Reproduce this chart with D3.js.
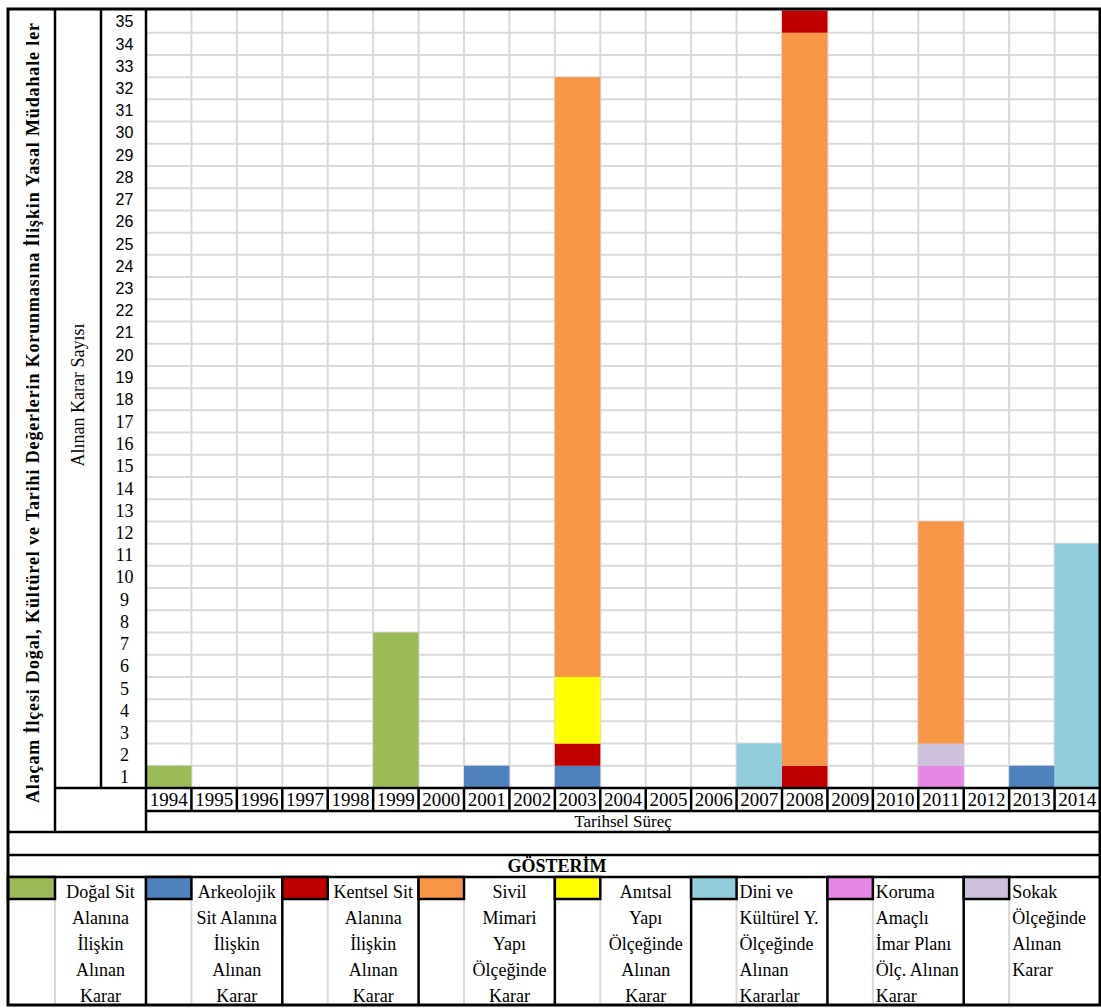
<!DOCTYPE html>
<html>
<head>
<meta charset="utf-8">
<script src="https://cdn.jsdelivr.net/npm/d3@7"></script>
<style>
    body { margin: 0; background: #fff; }
    svg { display: block; }
</style>
</head>
<body>
<script>
(function() {

    // Chart data
    var years = ['1994', '1995', '1996', '1997', '1998', '1999', '2000', '2001', '2002', '2003', '2004',
                 '2005', '2006', '2007', '2008', '2009', '2010', '2011', '2012', '2013', '2014'];

    //           94 95 96 97 98 99 00 01 02 03 04 05 06 07 08 09 10 11 12 13 14
    var dogal =      [1, 0, 0, 0, 0, 7, 0, 0, 0, 0, 0, 0, 0, 0, 0, 0, 0, 0, 0, 0, 0];
    var arkeolojik = [0, 0, 0, 0, 0, 0, 0, 1, 0, 1, 0, 0, 0, 0, 0, 0, 0, 0, 0, 1, 0];
    var kentsel =    [0, 0, 0, 0, 0, 0, 0, 0, 0, 1, 0, 0, 0, 0, 1, 0, 0, 0, 0, 0, 0];
    var anitsal =    [0, 0, 0, 0, 0, 0, 0, 0, 0, 3, 0, 0, 0, 0, 0, 0, 0, 0, 0, 0, 0];
    var koruma =     [0, 0, 0, 0, 0, 0, 0, 0, 0, 0, 0, 0, 0, 0, 0, 0, 0, 1, 0, 0, 0];
    var sokak =      [0, 0, 0, 0, 0, 0, 0, 0, 0, 0, 0, 0, 0, 0, 0, 0, 0, 1, 0, 0, 0];
    var sivil =      [0, 0, 0, 0, 0, 0, 0, 0, 0, 27, 0, 0, 0, 0, 33, 0, 0, 10, 0, 0, 0];
    var dini =       [0, 0, 0, 0, 0, 0, 0, 0, 0, 0, 0, 0, 0, 2, 0, 0, 0, 0, 0, 0, 11];
    var kentselUst = [0, 0, 0, 0, 0, 0, 0, 0, 0, 0, 0, 0, 0, 0, 1, 0, 0, 0, 0, 0, 0];

    var yTicks = d3.range(1, 36);

    var title = 'Alaçam İlçesi Doğal, Kültürel ve Tarihi Değerlerin Korunmasına İlişkin Yasal Müdahale ler';
    var yTitle = 'Alınan Karar Sayısı';
    var xTitle = 'Tarihsel Süreç';
    var legendTitle = 'GÖSTERİM';

    var legendLabels = [
        ['Doğal Sit', 'Alanına', 'İlişkin', 'Alınan', 'Karar'],
        ['Arkeolojik', 'Sit Alanına', 'İlişkin', 'Alınan', 'Karar'],
        ['Kentsel Sit', 'Alanına', 'İlişkin', 'Alınan', 'Karar'],
        ['Sivil', 'Mimari', 'Yapı', 'Ölçeğinde', 'Karar'],
        ['Anıtsal', 'Yapı', 'Ölçeğinde', 'Alınan', 'Karar'],
        ['Dini ve', 'Kültürel Y.', 'Ölçeğinde', 'Alınan', 'Kararlar'],
        ['Koruma', 'Amaçlı', 'İmar Planı', 'Ölç. Alınan', 'Karar'],
        ['Sokak', 'Ölçeğinde', 'Alınan', 'Karar']
    ];

    // Series in stacking order (bottom to top)
    var series = [
        {key: 'dogal', values: dogal, color: '#9bbb59'},
        {key: 'arkeolojik', values: arkeolojik, color: '#4f81bd'},
        {key: 'kentsel', values: kentsel, color: '#c00000'},
        {key: 'anitsal', values: anitsal, color: '#ffff00'},
        {key: 'koruma', values: koruma, color: '#e687e6'},
        {key: 'sokak', values: sokak, color: '#ccc0da'},
        {key: 'sivil', values: sivil, color: '#f79646'},
        {key: 'dini', values: dini, color: '#92cddc'},
        {key: 'kentselUst', values: kentselUst, color: '#c00000'}
    ];
    var legendColors = ['#9bbb59', '#4f81bd', '#c00000', '#f79646', '#ffff00', '#92cddc', '#e687e6', '#ccc0da'];
    var legendAlign = ['middle', 'middle', 'middle', 'middle', 'middle', 'start', 'start', 'start'];

    var SERIF = '"Liberation Serif", "DejaVu Serif", serif';
    var SANS = '"Liberation Sans", "DejaVu Sans", sans-serif';

    // Page layout
    var W = 1101, H = 1008;
    var left = 8, right = 1100, top = 9, bottom = 1005;
    var col1 = 55, col2 = 101, plotLeft = 146;
    var axisY = 788, yearRowB = 811, xTitleRowB = 832, blankRowB = 855, legTitleB = 877, swatchB = 899;

    var svg = d3.select('body').append('svg')
        .attr('width', W)
        .attr('height', H);

    // Scales
    var x = d3.scaleBand().domain(years).range([plotLeft, right]).padding(0);
    var y = d3.scaleLinear().domain([0, 35]).range([axisY, top + 1.5]);
    var bw = x.bandwidth();

    // Gridlines
    var grid = svg.append('g').attr('stroke', '#d9d9d9').attr('stroke-width', 2);
    grid.selectAll('.hg').data(d3.range(1, 35)).enter().append('line')
        .attr('x1', plotLeft).attr('x2', right)
        .attr('y1', function(d) { return y(d); })
        .attr('y2', function(d) { return y(d); });
    grid.selectAll('.vg').data(years.slice(1)).enter().append('line')
        .attr('x1', function(d) { return x(d); })
        .attr('x2', function(d) { return x(d); })
        .attr('y1', top).attr('y2', axisY);

    // Stacked bars
    var table = years.map(function(yr, i) {
        var row = {year: yr};
        series.forEach(function(s) { row[s.key] = s.values[i]; });
        return row;
    });
    var stack = d3.stack().keys(series.map(function(s) { return s.key; }));
    var layers = stack(table);

    svg.append('g').selectAll('g')
        .data(layers)
        .enter().append('g')
        .attr('fill', function(d, i) { return series[i].color; })
        .selectAll('rect')
        .data(function(d) { return d.filter(function(p) { return p[1] > p[0]; }); })
        .enter().append('rect')
        .attr('x', function(d) { return x(d.data.year); })
        .attr('width', bw)
        .attr('y', function(d) { return y(d[1]); })
        .attr('height', function(d) { return y(d[0]) - y(d[1]); });

    // Y tick labels (1-17 in serif, 18-35 in sans as in the source sheet)
    svg.append('g').selectAll('text')
        .data(yTicks)
        .enter().append('text')
        .attr('x', (col2 + plotLeft) / 2 + 1)
        .attr('y', function(d) { return y(d - 0.5); })
        .attr('dy', '0.36em')
        .attr('text-anchor', 'middle')
        .style('font-family', function(d) { return d <= 17 ? SERIF : SANS; })
        .style('font-size', function(d) { return d <= 17 ? '18px' : '16px'; })
        .text(function(d) { return d; });

    // Year labels
    svg.append('g').selectAll('text')
        .data(years)
        .enter().append('text')
        .attr('x', function(d) { return x(d) + bw / 2; })
        .attr('y', (axisY + yearRowB) / 2)
        .attr('dy', '0.35em')
        .attr('text-anchor', 'middle')
        .style('font-family', SERIF)
        .style('font-size', '19px')
        .text(function(d) { return d; });

    // Axis titles
    svg.append('text')
        .attr('x', (plotLeft + right) / 2)
        .attr('y', (yearRowB + xTitleRowB) / 2)
        .attr('dy', '0.35em')
        .attr('text-anchor', 'middle')
        .style('font-family', SERIF)
        .style('font-size', '17px')
        .text(xTitle);

    svg.append('text')
        .attr('transform', 'translate(' + ((col1 + col2) / 2) + ',395) rotate(-90)')
        .attr('dy', '0.35em')
        .attr('text-anchor', 'middle')
        .style('font-family', SERIF)
        .style('font-size', '18px')
        .text(yTitle);

    svg.append('text')
        .attr('transform', 'translate(' + ((left + col1) / 2 + 1) + ',413) rotate(-90)')
        .attr('dy', '0.35em')
        .attr('text-anchor', 'middle')
        .attr('textLength', 780)
        .attr('lengthAdjust', 'spacing')
        .style('font-family', SERIF)
        .style('font-size', '18px')
        .style('font-weight', 'bold')
        .text(title);

    // Table lines
    var lines = svg.append('g').attr('stroke', '#000').attr('stroke-width', 2.5).attr('fill', 'none');
    function hline(y0, x0, x1) { lines.append('line').attr('x1', x0).attr('x2', x1).attr('y1', y0).attr('y2', y0); }
    function vline(x0, y0, y1) { lines.append('line').attr('x1', x0).attr('x2', x0).attr('y1', y0).attr('y2', y1); }

    vline(col1, top, xTitleRowB);
    vline(col2, top, axisY);
    vline(plotLeft, top, xTitleRowB);
    hline(axisY, col1, right);
    hline(yearRowB, plotLeft, right);
    years.slice(1).forEach(function(d) { vline(x(d), axisY, yearRowB); });
    hline(xTitleRowB, left, right);
    hline(blankRowB, left, right);
    hline(legTitleB, left, right);

    // Legend
    svg.append('text')
        .attr('x', (left + right) / 2 + 3)
        .attr('y', (blankRowB + legTitleB) / 2)
        .attr('dy', '0.35em')
        .attr('text-anchor', 'middle')
        .style('font-family', SERIF)
        .style('font-size', '18px')
        .style('font-weight', 'bold')
        .text(legendTitle);

    var items = legendLabels.map(function(lbl, i) {
        var sx = i === 0 ? left : x(years[3 * i - 3]);
        var sw = i === 0 ? col1 - left : bw;
        return {labels: lbl, color: legendColors[i], align: legendAlign[i],
                sx: sx, sw: sw, tx: sx + sw, tw: i === 0 ? plotLeft - col1 : 2 * bw};
    });

    var leg = svg.append('g').selectAll('g')
        .data(items)
        .enter().append('g');

    // light separator under each swatch column
    leg.append('line')
        .attr('x1', function(d) { return d.tx; })
        .attr('x2', function(d) { return d.tx; })
        .attr('y1', swatchB).attr('y2', bottom)
        .attr('stroke', '#d9d9d9').attr('stroke-width', 2);

    leg.append('rect')
        .attr('x', function(d) { return d.sx; })
        .attr('y', legTitleB)
        .attr('width', function(d) { return d.sw; })
        .attr('height', swatchB - legTitleB)
        .attr('fill', function(d) { return d.color; })
        .attr('stroke', '#000')
        .attr('stroke-width', 2.5);

    leg.filter(function(d, i) { return i < items.length - 1; })
        .append('line')
        .attr('x1', function(d) { return d.tx + d.tw; })
        .attr('x2', function(d) { return d.tx + d.tw; })
        .attr('y1', legTitleB).attr('y2', bottom)
        .attr('stroke', '#000').attr('stroke-width', 2.5);

    leg.each(function(d) {
        var tx = d.align === 'middle' ? d.tx + d.tw / 2 : d.tx + 3;
        d3.select(this).selectAll('text')
            .data(d.labels)
            .enter().append('text')
            .attr('x', tx)
            .attr('y', function(t, j) { return 892 + j * 25.8; })
            .attr('dy', '0.35em')
            .attr('text-anchor', d.align)
            .style('font-family', SERIF)
            .style('font-size', '18px')
            .text(function(t) { return t; });
    });

    // Outer border
    svg.append('rect')
        .attr('x', left).attr('y', top)
        .attr('width', right - left).attr('height', bottom - top)
        .attr('fill', 'none')
        .attr('stroke', '#000')
        .attr('stroke-width', 3);

})();
</script>
</body>
</html>
